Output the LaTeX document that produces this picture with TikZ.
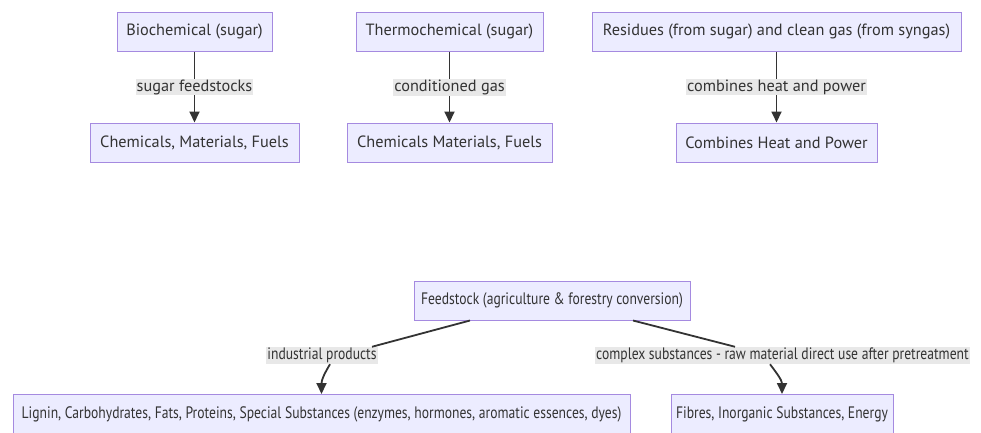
\documentclass[tikz,border=0pt]{standalone}
\usepackage{fontspec}
\setmainfont{PT Sans}
\newfontfamily\narrowfont[FakeStretch=0.82]{PT Sans}
\usetikzlibrary{arrows.meta,calc}
\definecolor{boxfill}{HTML}{ECECFF}
\definecolor{boxline}{HTML}{A58AE0}
\definecolor{txt}{HTML}{333333}
\definecolor{lblbg}{HTML}{E8E8E8}
\tikzset{
  box/.style={draw=boxline, fill=boxfill, line width=1pt, minimum height=39pt, inner sep=0pt, text=txt, font=\fontsize{16.3}{19}\selectfont},
  nbox/.style={box, font=\narrowfont\fontsize{16.6}{19}\selectfont},
  lbl/.style={fill=lblbg, inner sep=1pt, text=txt, font=\fontsize{16.3}{19}\selectfont},
  nlbl/.style={lbl, font=\narrowfont\fontsize{16.6}{19}\selectfont},
  conn/.style={draw=txt, line width=1.8pt},
  arr/.style={conn, -{Triangle[length=11pt,width=10pt]}}
}
\begin{document}
\begin{tikzpicture}[x=1pt,y=-1pt]
\useasboundingbox (0,0) rectangle (981,432);
% top row
\node[box, minimum width=155pt] (A1) at (194.5,31.5) {Biochemical (sugar)};
\node[box, minimum width=209pt] (B1) at (194.5,142.5) {Chemicals, Materials, Fuels};
\node[box, minimum width=187pt] (A2) at (449.5,31.5) {Thermochemical (sugar)};
\node[box, minimum width=205pt] (B2) at (449.5,142.5) {Chemicals Materials, Fuels};
\node[box, minimum width=369pt] (A3) at (776.5,31.5) {Residues (from sugar) and clean gas (from syngas)};
\node[box, minimum width=201pt] (B3) at (776.5,142.5) {Combines Heat and Power};
\draw[arr] (A1) -- node[lbl] (l1) {sugar feedstocks} (B1);
\draw[arr] (A2) -- node[lbl] (l2) {conditioned gas} (B2);
\draw[arr] (A3) -- node[lbl] (l3) {combines heat and power} (B3);
% bottom
\node[nbox, minimum width=276pt] (F) at (552,300.5) {Feedstock (agriculture \& forestry conversion)};
\node[nbox, minimum width=617pt] (L) at (321.5,414) {Lignin, Carbohydrates, Fats, Proteins, Special Substances (enzymes, hormones, aromatic essences, dyes)};
\node[nbox, minimum width=222pt] (R) at (782,414) {Fibres, Inorganic Substances, Energy};
\node[nlbl] (ip) at (322,355.5) {industrial products};
\node[nlbl] (cs) at (782.5,355.5) {complex substances - raw material direct use after pretreatment};
\draw[conn] ([xshift=-82pt]F.south) -- ([xshift=50pt]ip.north);
\draw[arr] ([xshift=8pt]ip.south) .. controls +(-6,10) and +(0,-14) .. (L.north);
\draw[conn] ([xshift=81pt]F.south) -- ([xshift=-47.5pt]cs.north);
\draw[arr] ([xshift=-12.5pt]cs.south) .. controls +(6,8) and +(0,-14) .. (R.north);
\end{tikzpicture}
\end{document}
